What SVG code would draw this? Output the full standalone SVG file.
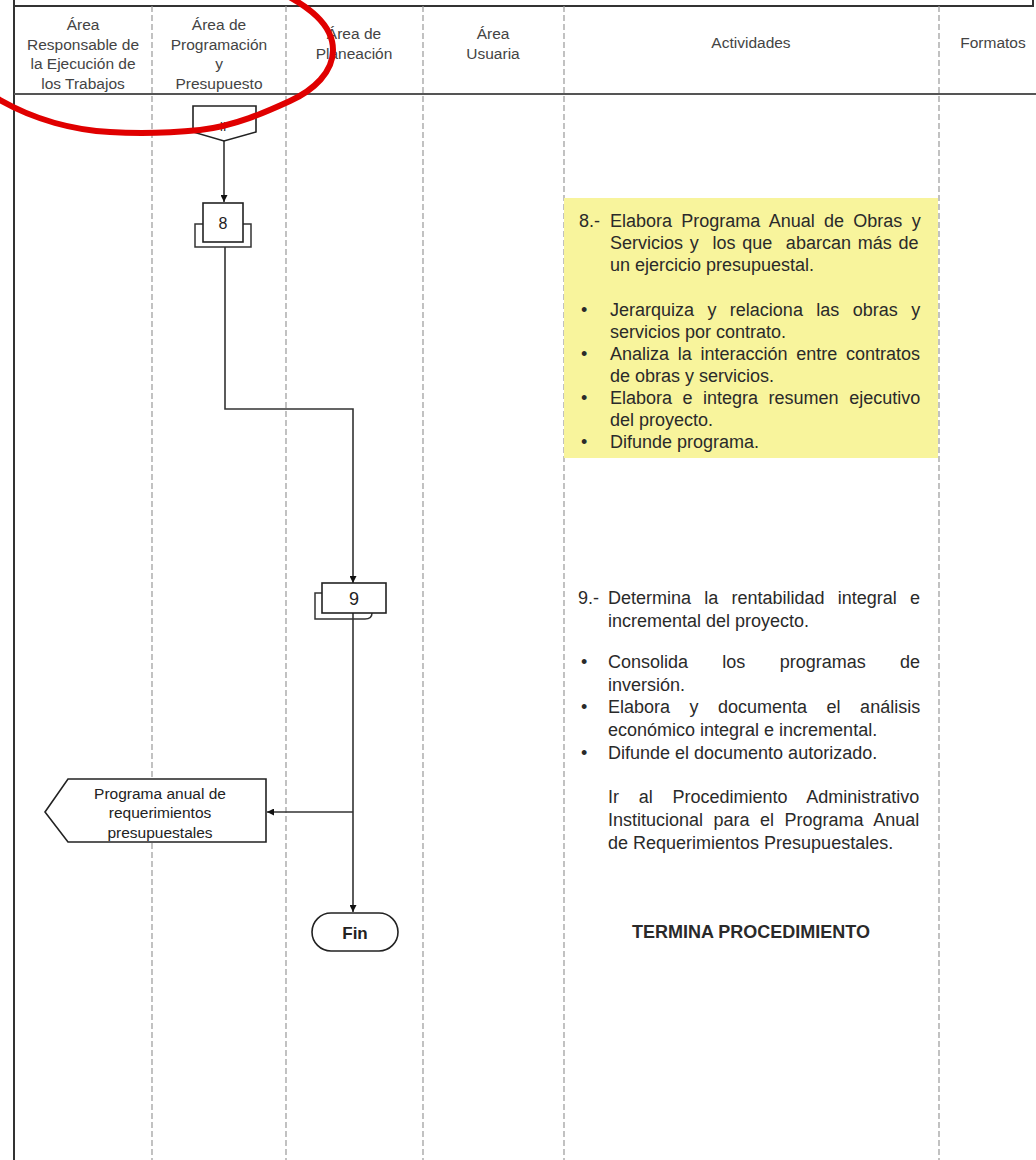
<svg xmlns="http://www.w3.org/2000/svg" width="1036" height="1160" viewBox="0 0 1036 1160">
<style>
.hdr{font-family:"Liberation Sans",Arial,sans-serif;font-size:15.5px;fill:#444;text-anchor:middle}
.body{font-family:"Liberation Sans",Arial,sans-serif;font-size:18px;fill:#2a2a2a}
.lane{stroke:#999;stroke-width:1.2;stroke-dasharray:6 3;fill:none}
.frame{stroke:#333;stroke-width:2;fill:none}
.shape{fill:#fff;stroke:#222;stroke-width:1.6}
.back{fill:none;stroke:#333;stroke-width:1.5}
.conn{fill:none;stroke:#333;stroke-width:1.6}
.lbl{font-family:"Liberation Sans",Arial,sans-serif;fill:#222;text-anchor:middle}
</style>
<defs>
<marker id="arr" viewBox="0 0 10 10" refX="10" refY="5" markerWidth="7" markerHeight="7" orient="auto" markerUnits="userSpaceOnUse">
<path d="M0,0 L10,5 L0,10 z" fill="#111"/>
</marker>
</defs>
<rect width="1036" height="1160" fill="#fff"/>

<g id="frame">
<line class="frame" x1="14" y1="0" x2="14" y2="1160"/>
<line class="frame" x1="14" y1="6" x2="1034" y2="6"/>
<line class="frame" x1="1033" y1="0" x2="1033" y2="6"/>
<line x1="14" y1="94" x2="1036" y2="94" stroke="#555" stroke-width="2"/>
<line class="lane" x1="152" y1="6" x2="152" y2="1160"/>
<line class="lane" x1="286" y1="6" x2="286" y2="1160"/>
<line class="lane" x1="423" y1="6" x2="423" y2="1160"/>
<line class="lane" x1="564" y1="6" x2="564" y2="1160"/>
<line class="lane" x1="939" y1="6" x2="939" y2="1160"/>
</g>

<g id="header">
<text class="hdr" x="83" y="30">Área</text>
<text class="hdr" x="83" y="50">Responsable de</text>
<text class="hdr" x="83" y="69">la Ejecución de</text>
<text class="hdr" x="83" y="89">los Trabajos</text>
<text class="hdr" x="219" y="30">Área de</text>
<text class="hdr" x="219" y="50">Programación</text>
<text class="hdr" x="219" y="69">y</text>
<text class="hdr" x="219" y="89">Presupuesto</text>
<text class="hdr" x="354" y="39">Área de</text>
<text class="hdr" x="354" y="59">Planeación</text>
<text class="hdr" x="493" y="39">Área</text>
<text class="hdr" x="493" y="59">Usuaria</text>
<text class="hdr" x="751" y="48">Actividades</text>
<text class="hdr" x="993" y="48">Formatos</text>
</g>

<g id="connectors">
<path class="conn" d="M224,140 V202" marker-end="url(#arr)"/>
<path class="conn" d="M225,247 V409 H353 V583" marker-end="url(#arr)"/>
<path class="conn" d="M353,613 V912" marker-end="url(#arr)"/>
<path class="conn" d="M353,812 H267" marker-end="url(#arr)"/>
</g>

<g id="node-offpage">
<path class="shape" d="M193,106 H256 V132 L224,141 L193,132 Z"/>
<text class="lbl" x="223" y="131" font-size="12">II</text>
</g>

<g id="node-8">
<path class="back" d="M203,224 H195 V247 H251 V224 H243"/>
<rect class="shape" x="203" y="203" width="40" height="39"/>
<text class="lbl" x="223" y="229" font-size="16">8</text>
</g>

<g id="node-9">
<path class="back" d="M322,593 H315 V619 H365 Q372,619 372,613"/>
<rect class="shape" x="322" y="583" width="64" height="30"/>
<text class="lbl" x="354" y="605" font-size="18">9</text>
</g>

<g id="node-programa">
<path class="shape" d="M45,812 L68,779 H266 V842 H68 Z"/>
<text class="lbl" x="160" y="799" font-size="15.5">Programa anual de</text>
<text class="lbl" x="160" y="818" font-size="15.5">requerimientos</text>
<text class="lbl" x="160" y="838" font-size="15.5">presupuestales</text>
</g>

<g id="node-fin">
<rect class="shape" x="312" y="913" width="86" height="38" rx="19" ry="19"/>
<text class="lbl" x="355" y="939" font-size="17" font-weight="bold">Fin</text>
</g>

<g id="activity-8">
<rect x="564" y="198" width="374" height="260" fill="#f8f49c"/>
<text class="body" x="579" y="227">8.-</text>
<text class="body" x="610" y="227" word-spacing="4.3">Elabora Programa Anual de Obras y</text>
<text class="body" x="610" y="249" word-spacing="1.8" xml:space="preserve">Servicios y  los que  abarcan más de</text>
<text class="body" x="610" y="271">un ejercicio presupuestal.</text>
<text class="body" x="581" y="316">•</text>
<text class="body" x="610" y="316" word-spacing="8.4">Jerarquiza y relaciona las obras y</text>
<text class="body" x="610" y="338">servicios por contrato.</text>
<text class="body" x="581" y="360">•</text>
<text class="body" x="610" y="360" word-spacing="3.7">Analiza la interacción entre contratos</text>
<text class="body" x="610" y="382">de obras y servicios.</text>
<text class="body" x="581" y="404">•</text>
<text class="body" x="610" y="404" word-spacing="5.5">Elabora e integra resumen ejecutivo</text>
<text class="body" x="610" y="426">del proyecto.</text>
<text class="body" x="581" y="448">•</text>
<text class="body" x="610" y="448">Difunde programa.</text>
</g>

<g id="activity-9">
<text class="body" x="578" y="604">9.-</text>
<text class="body" x="608" y="604" word-spacing="8.2">Determina la rentabilidad integral e</text>
<text class="body" x="608" y="627">incremental del proyecto.</text>
<text class="body" x="581" y="668">•</text>
<text class="body" x="608" y="668" word-spacing="29.3">Consolida los programas de</text>
<text class="body" x="608" y="691">inversión.</text>
<text class="body" x="581" y="713">•</text>
<text class="body" x="608" y="713" word-spacing="14.5">Elabora y documenta el análisis</text>
<text class="body" x="608" y="736">económico integral e incremental.</text>
<text class="body" x="581" y="759">•</text>
<text class="body" x="608" y="759">Difunde el documento autorizado.</text>
<text class="body" x="608" y="803" word-spacing="14.7">Ir al Procedimiento Administrativo</text>
<text class="body" x="608" y="826" word-spacing="5.5">Institucional para el Programa Anual</text>
<text class="body" x="608" y="849">de Requerimientos Presupuestales.</text>
<text class="body" x="751" y="938" font-size="17" font-weight="bold" text-anchor="middle">TERMINA PROCEDIMIENTO</text>
</g>

<g id="annotation">
<path d="M272,-12 C310,6 333,25 333,50 C333,72 314,90 290,101 C266,112 235,126 200,130 C170,133 140,134 110,132 C75,130 35,120 0,100 C-10,94 -20,88 -25,84" fill="none" stroke="#e00000" stroke-width="6" stroke-linecap="round"/>
</g>
</svg>
